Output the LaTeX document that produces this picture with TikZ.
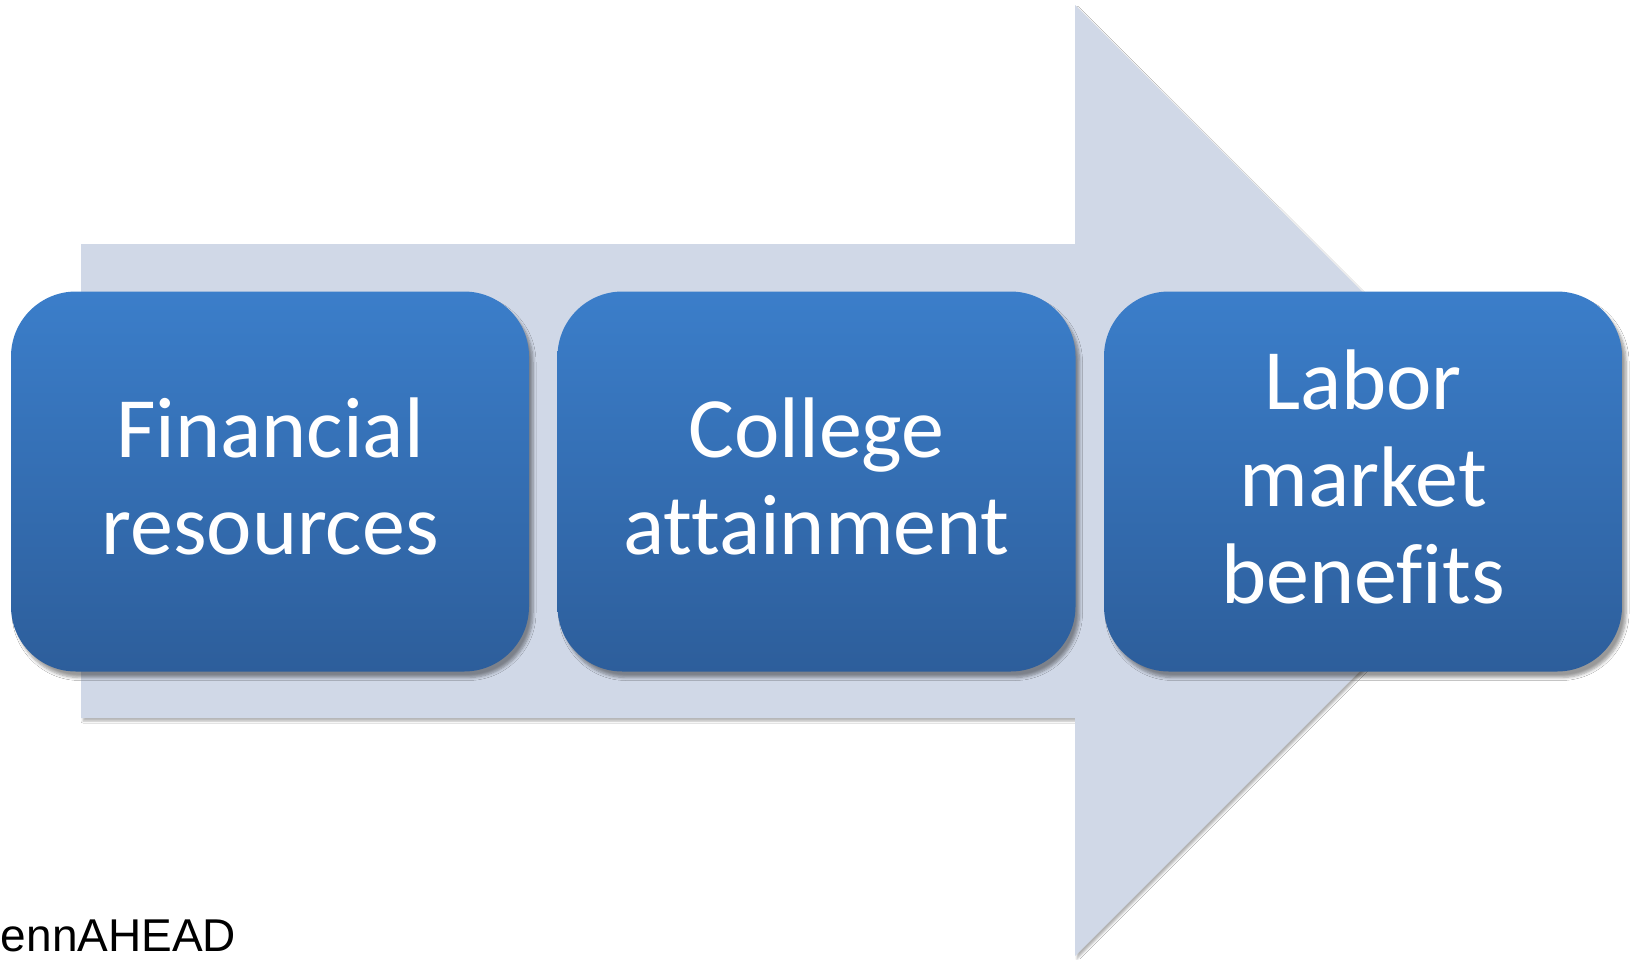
\documentclass[tikz,border=0pt]{standalone}
\usepackage{fontspec}
\setmainfont{Carlito}[Ligatures={NoCommon}]
\newfontfamily\arialfont{Liberation Sans}
\usetikzlibrary{shadows.blur}
\definecolor{arrowfill}{RGB}{208,216,231}
\definecolor{boxtop}{RGB}{59,126,202}
\definecolor{boxbot}{RGB}{45,94,155}
\tikzset{
  stagebox/.style={rounded corners=65pt, top color=boxtop, bottom color=boxbot,
    minimum width=518pt, minimum height=380pt, inner sep=0pt,
    blur shadow={shadow xshift=4pt, shadow yshift=-6pt, shadow blur steps=6, shadow blur radius=3pt, shadow opacity=40}},
  stagetext/.style={text=white, align=center, font=\fontsize{86}{97}\selectfont, inner sep=0pt},
  bigarrow/.style={fill=arrowfill,
    blur shadow={shadow xshift=2pt, shadow yshift=-3pt, shadow blur steps=5, shadow blur radius=2pt, shadow opacity=30}}
}
\begin{document}
\begin{tikzpicture}[x=1pt,y=-1pt]
\useasboundingbox (0,0) rectangle (1633,959);
\fill[white] (0,0) rectangle (1633,959);
\path[bigarrow] (81,244) -- (1075,244) -- (1075,5) -- (1551,480) -- (1075,956) -- (1075,718) -- (81,718) -- cycle;
\node[stagebox] (fin) at (270,481.5) {};
\node[stagebox] (col) at (816.5,481.5) {};
\node[stagebox] (lab) at (1363,481.5) {};
\node[stagetext] (fint) at ([yshift=5pt]fin.center) {Financial\\resources};
\node[stagetext] (colt) at ([yshift=5pt]col.center) {College\\attainment};
\node[stagetext] (labt) at ([yshift=5pt]lab.center) {Labor\\market\\benefits};
\node[anchor=base west, inner sep=0pt, font=\arialfont\fontsize{46}{50}\selectfont] (penn) at (-30,951) {PennAHEAD};
\end{tikzpicture}
\end{document}
